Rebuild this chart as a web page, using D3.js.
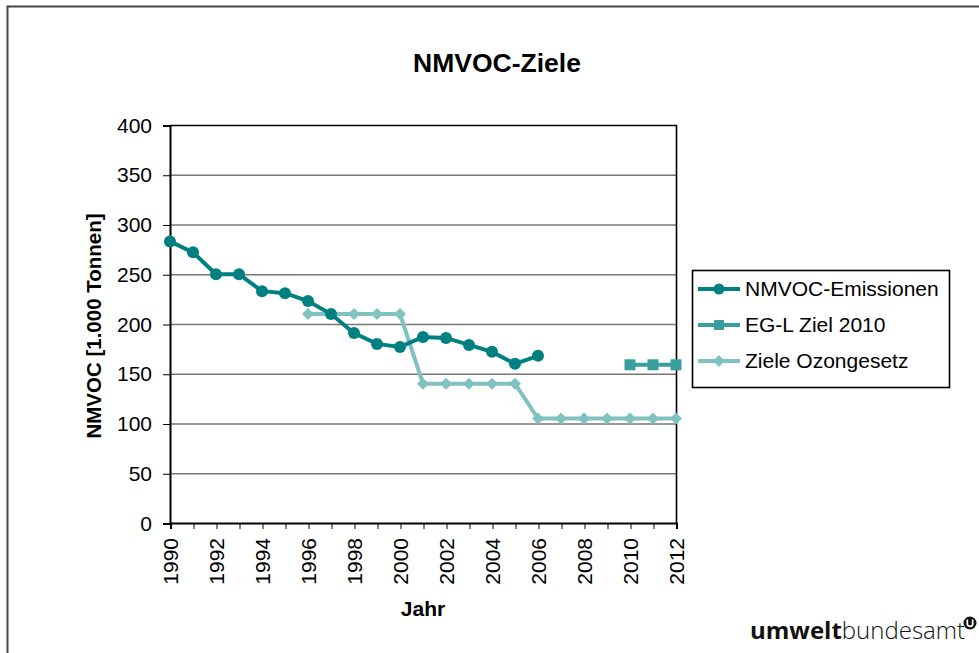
<!DOCTYPE html>
<html>
<head>
<meta charset="utf-8">
<script src="https://cdn.jsdelivr.net/npm/d3@7"></script>
<style>
  body { margin: 0; background: #fff; }
  svg { display: block; font-family: "Liberation Sans", Arial, sans-serif; }
</style>
</head>
<body>
<div class="chart"></div>
<script>
const years = d3.range(1990, 2013);
const yTicks = [0, 50, 100, 150, 200, 250, 300, 350, 400];
const xTicks = [1990, 1992, 1994, 1996, 1998, 2000, 2002, 2004, 2006, 2008, 2010, 2012];

const emissionYears = [1990, 1991, 1992, 1993, 1994, 1995, 1996, 1997, 1998, 1999, 2000, 2001, 2002, 2003, 2004, 2005, 2006];
const emissionValues = [283, 272, 250, 250, 233, 231, 223, 210, 191, 180, 177, 187, 186, 179, 172, 160, 168];

const eglYears = [2010, 2011, 2012];
const eglValues = [159, 159, 159];

const ozonYears = [1996, 1997, 1998, 1999, 2000, 2001, 2002, 2003, 2004, 2005, 2006, 2007, 2008, 2009, 2010, 2011, 2012];
const ozonValues = [210, 210, 210, 210, 210, 140, 140, 140, 140, 140, 105, 105, 105, 105, 105, 105, 105];

const seriesNames = ["NMVOC-Emissionen", "EG-L Ziel 2010", "Ziele Ozongesetz"];
const seriesColors = ["#008080", "#3a9e9e", "#80c2c0"];

const FONT = "Liberation Sans, Arial, sans-serif";
const diamond = "M0,-6 L6,0 L0,6 L-6,0Z";

function drawChart() {
    const w = 979, h = 653;
    const plot = { left: 170, right: 676, top: 125, bottom: 523 };

    const svg = d3.select(".chart").append("svg")
        .attr("width", w)
        .attr("height", h);

    // outer frame
    svg.append("path")
        .attr("d", `M7.5,${h} V6.5 H${w}`)
        .attr("fill", "none")
        .attr("stroke", "#444")
        .attr("stroke-width", 2);

    const x = d3.scaleLinear().domain([1990, 2012]).range([plot.left, plot.right]);
    const y = d3.scaleLinear().domain([0, 400]).range([plot.bottom, plot.top]);

    // gridlines
    svg.append("g")
        .selectAll("line")
        .data(yTicks.filter(d => d > 0 && d < 400))
        .enter().append("line")
        .attr("x1", plot.left).attr("x2", plot.right)
        .attr("y1", d => y(d) + 0.5).attr("y2", d => y(d) + 0.5)
        .attr("stroke", "#777")
        .attr("stroke-width", 1.3);

    // frame top + right
    svg.append("path")
        .attr("d", `M${plot.left},${plot.top + 0.5} H${plot.right + 0.5} V${plot.bottom}`)
        .attr("fill", "none")
        .attr("stroke", "#000")
        .attr("stroke-width", 1.6);

    // y axis
    const yAxis = d3.axisLeft(y).tickValues(yTicks).tickSize(7).tickPadding(11);
    const gy = svg.append("g")
        .attr("transform", `translate(${plot.left},0.5)`)
        .call(yAxis);
    gy.select(".domain").attr("stroke", "#000").attr("stroke-width", 2);
    gy.selectAll(".tick line").attr("stroke", "#000");
    gy.selectAll(".tick text").attr("font-size", 21).attr("font-family", FONT).attr("fill", "#000");

    // x axis
    const xAxis = d3.axisBottom(x).tickValues(years).tickSize(6).tickFormat(d => xTicks.includes(d) ? d : "");
    const gx = svg.append("g")
        .attr("transform", `translate(0.5,${plot.bottom})`)
        .call(xAxis);
    gx.select(".domain").attr("stroke", "#000").attr("stroke-width", 2);
    gx.selectAll(".tick line").attr("stroke", "#000");
    gx.selectAll(".tick text")
        .attr("font-size", 21)
        .attr("font-family", FONT)
        .attr("fill", "#000")
        .attr("text-anchor", "end")
        .attr("dy", "0.35em")
        .attr("transform", "translate(0,6) rotate(-90)")
        .attr("x", -9)
        .attr("y", 0);

    // series
    const line = d3.line().x(d => x(d[0])).y(d => y(d[1]));
    const emis = d3.zip(emissionYears, emissionValues);
    const egl = d3.zip(eglYears, eglValues);
    const ozon = d3.zip(ozonYears, ozonValues);

    svg.append("path").datum(ozon)
        .attr("d", line).attr("fill", "none")
        .attr("stroke", seriesColors[2]).attr("stroke-width", 4);
    svg.append("g").selectAll("path").data(ozon).enter().append("path")
        .attr("d", diamond)
        .attr("transform", d => `translate(${x(d[0])},${y(d[1])})`)
        .attr("fill", seriesColors[2]);

    svg.append("path").datum(emis)
        .attr("d", line).attr("fill", "none")
        .attr("stroke", seriesColors[0]).attr("stroke-width", 4);
    svg.append("g").selectAll("circle").data(emis).enter().append("circle")
        .attr("cx", d => x(d[0])).attr("cy", d => y(d[1])).attr("r", 6)
        .attr("fill", seriesColors[0]);

    svg.append("path").datum(egl)
        .attr("d", line).attr("fill", "none")
        .attr("stroke", seriesColors[1]).attr("stroke-width", 4);
    svg.append("g").selectAll("rect").data(egl).enter().append("rect")
        .attr("x", d => x(d[0]) - 5.5).attr("y", d => y(d[1]) - 5.5)
        .attr("width", 11).attr("height", 11)
        .attr("fill", seriesColors[1]);

    // title
    svg.append("text")
        .attr("x", 497).attr("y", 72)
        .attr("text-anchor", "middle")
        .attr("font-size", 26.5).attr("font-weight", "bold")
        .text("NMVOC-Ziele");

    // axis titles
    svg.append("text")
        .attr("transform", "translate(101,326) rotate(-90)")
        .attr("text-anchor", "middle")
        .attr("font-size", 20.5).attr("font-weight", "bold")
        .text("NMVOC [1.000 Tonnen]");
    svg.append("text")
        .attr("x", 423).attr("y", 616)
        .attr("text-anchor", "middle")
        .attr("font-size", 21).attr("font-weight", "bold")
        .text("Jahr");

    // legend
    const lg = svg.append("g").attr("transform", "translate(692,270)");
    lg.append("rect")
        .attr("x", 0.5).attr("y", 0.5).attr("width", 257).attr("height", 117)
        .attr("fill", "#fff").attr("stroke", "#000").attr("stroke-width", 1.6);
    const item = lg.selectAll("g.item").data(seriesNames).enter().append("g")
        .attr("class", "item")
        .attr("transform", (d, i) => `translate(0,${19 + i * 36})`);
    item.append("line")
        .attr("x1", 6).attr("x2", 48).attr("y1", 0).attr("y2", 0)
        .attr("stroke", (d, i) => seriesColors[i]).attr("stroke-width", 4);
    item.each(function (d, i) {
        const g = d3.select(this);
        if (i === 0) g.append("circle").attr("cx", 27).attr("r", 5.5).attr("fill", seriesColors[0]);
        if (i === 1) g.append("rect").attr("x", 22).attr("y", -5).attr("width", 10).attr("height", 10).attr("fill", seriesColors[1]);
        if (i === 2) g.append("path").attr("d", diamond).attr("transform", "translate(27,0)").attr("fill", seriesColors[2]);
    });
    item.append("text")
        .attr("x", 53).attr("dy", "0.35em")
        .attr("font-size", 21)
        .text(d => d);

    // logo
    const logo = svg.append("text")
        .attr("x", 750).attr("y", 639)
        .attr("font-size", 24)
        .attr("font-family", "'Open Sans', 'DejaVu Sans', sans-serif")
        .attr("fill", "#111");
    logo.append("tspan").attr("font-weight", "bold").text("umwelt");
    logo.append("tspan").attr("font-weight", "300").text("bundesamt");
    const lgo = svg.append("g").attr("transform", "translate(970,623)");
    lgo.append("circle").attr("r", 6.5).attr("fill", "#111");
    lgo.append("path").attr("d", "M-2.7,-3.5 V1 Q-2.7,3.3 0,3.3 Q2.7,3.3 2.7,1 V-3.5")
        .attr("fill", "none").attr("stroke", "#fff").attr("stroke-width", 1.7);
}

drawChart();
</script>
</body>
</html>
